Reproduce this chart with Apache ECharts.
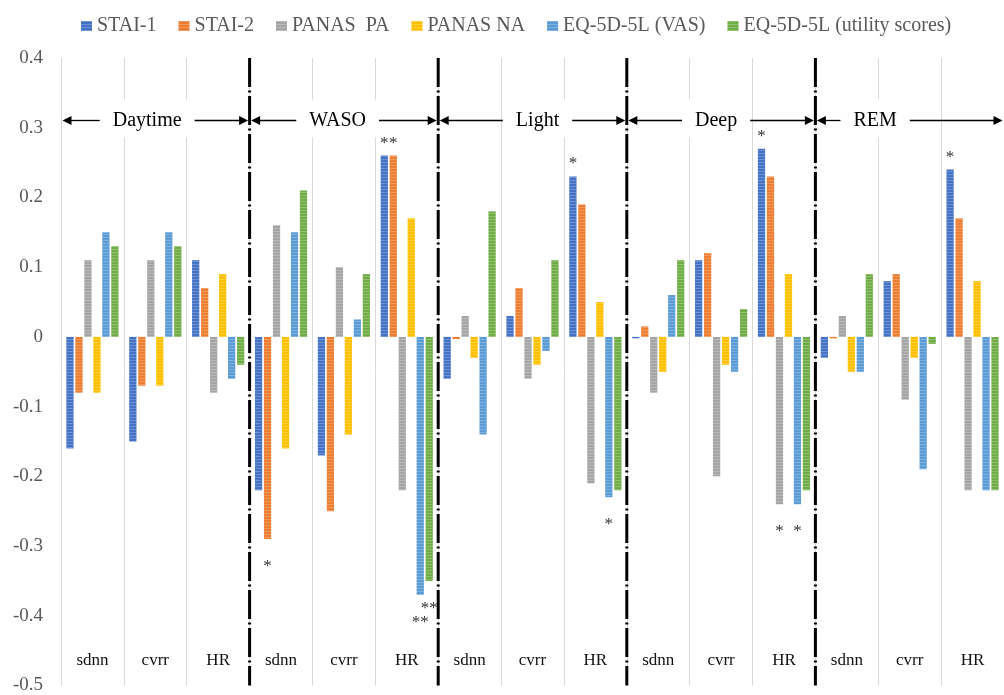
<!DOCTYPE html>
<html>
<head>
<meta charset="utf-8">
<script src="https://cdn.jsdelivr.net/npm/echarts@6/dist/echarts.min.js"></script>
<style>
  html, body { margin: 0; padding: 0; background: #fff; }
  #chart { width: 1004px; height: 695px; }
</style>
</head>
<body>
<div id="chart"></div>
<script>
// ---- data ----
const groups = ['Daytime', 'WASO', 'Light', 'Deep', 'REM'];
const categories = ['sdnn', 'cvrr', 'HR', 'sdnn', 'cvrr', 'HR', 'sdnn', 'cvrr', 'HR', 'sdnn', 'cvrr', 'HR', 'sdnn', 'cvrr', 'HR'];
const seriesNames = ['STAI-1', 'STAI-2', 'PANAS  PA', 'PANAS NA', 'EQ-5D-5L (VAS)', 'EQ-5D-5L (utility scores)'];
const yTicks = [-0.5, -0.4, -0.3, -0.2, -0.1, 0, 0.1, 0.2, 0.3, 0.4];

const stai1   = [-0.16, -0.15, 0.11, -0.22, -0.17, 0.26, -0.06, 0.03, 0.23, -0.002, 0.11, 0.27, -0.03, 0.08, 0.24];
const stai2   = [-0.08, -0.07, 0.07, -0.29, -0.25, 0.26, -0.003, 0.07, 0.19, 0.015, 0.12, 0.23, -0.002, 0.09, 0.17];
const panasPA = [0.11, 0.11, -0.08, 0.16, 0.10, -0.22, 0.03, -0.06, -0.21, -0.08, -0.20, -0.24, 0.03, -0.09, -0.22];
const panasNA = [-0.08, -0.07, 0.09, -0.16, -0.14, 0.17, -0.03, -0.04, 0.05, -0.05, -0.04, 0.09, -0.05, -0.03, 0.08];
const eqVAS   = [0.15, 0.15, -0.06, 0.15, 0.025, -0.37, -0.14, -0.02, -0.23, 0.06, -0.05, -0.24, -0.05, -0.19, -0.22];
const eqUtil  = [0.13, 0.13, -0.04, 0.21, 0.09, -0.35, 0.18, 0.11, -0.22, 0.11, 0.04, -0.22, 0.09, -0.01, -0.22];

// significance marks
const sigStai1   = ['', '', '', '', '', '*', '', '', '*', '', '', '*', '', '', '*'];
const sigStai2   = ['', '', '', '*', '', '*', '', '', '', '', '', '', '', '', ''];
const sigPanasPA = ['', '', '', '', '', '', '', '', '', '', '', '*', '', '', ''];
const sigPanasNA = ['', '', '', '', '', '', '', '', '', '', '', '', '', '', ''];
const sigVAS     = ['', '', '', '', '', '**', '', '', '*', '', '', '*', '', '', ''];
const sigUtil    = ['', '', '', '', '', '**', '', '', '', '', '', '', '', '', ''];

const seriesValues = [stai1, stai2, panasPA, panasNA, eqVAS, eqUtil];
const seriesSig = [sigStai1, sigStai2, sigPanasPA, sigPanasNA, sigVAS, sigUtil];
const colors = ['#4472C4', '#ED7D31', '#A5A5A5', '#FFC000', '#5B9BD5', '#70AD47'];

// group label centres (in category units from the left edge)
const groupLabelCenters = [1.37, 4.4, 7.58, 10.42, 12.95];

const serif = '"Liberation Serif", "DejaVu Serif", serif';

const chart = echarts.init(document.getElementById('chart'), null, { renderer: 'canvas' });

const series = seriesValues.map((vals, si) => ({
  name: seriesNames[si],
  type: 'bar',
  barGap: '24%',
  barCategoryGap: '17%',
  itemStyle: {
    color: colors[si],
    decal: {
      symbol: 'rect',
      symbolSize: 1,
      dashArrayX: [1, 0],
      dashArrayY: [1, 2],
      color: 'rgba(255,255,255,0.22)'
    }
  },
  data: vals.map((v, i) => {
    const s = seriesSig[si][i];
    const item = { value: v };
    if (s) {
      item.label = {
        show: true,
        position: 'outside',
        formatter: s,
        distance: v < 0 ? 19 : 4,
        fontFamily: serif,
        fontSize: 17,
        color: '#333'
      };
    }
    return item;
  })
}));

// hidden helper series for the value axis used for decorations
series.push({
  type: 'line', xAxisIndex: 1, data: [], silent: true
});

chart.setOption({
  animation: false,
  aria: { enabled: false },
  color: colors,
  legend: {
    data: seriesNames,
    left: 76,
    top: 11,
    itemWidth: 11,
    itemHeight: 10,
    itemGap: 22,
    icon: 'rect',
    textStyle: { fontFamily: serif, fontSize: 20, color: '#595959' }
  },
  grid: { left: 61, right: -7, top: 58, bottom: 7, containLabel: false },
  xAxis: [{
    type: 'category',
    data: categories,
    boundaryGap: true,
    axisLine: { show: false },
    axisTick: { show: false },
    splitLine: { show: true, interval: 0, lineStyle: { color: '#d9d9d9', width: 1 } },
    axisLabel: {
      inside: true,
      interval: 0,
      margin: 16,
      fontFamily: serif,
      fontSize: 17,
      color: '#111'
    }
  }, {
    type: 'value',
    min: 0,
    max: 15,
    show: false
  }],
  yAxis: {
    type: 'value',
    min: -0.5,
    max: 0.4,
    interval: 0.1,
    axisLine: { show: false },
    axisTick: { show: false },
    splitLine: { show: false },
    axisLabel: {
      margin: 18,
      fontFamily: serif,
      fontSize: 19,
      color: '#595959',
      formatter: v => {
        const r = Math.round(v * 10) / 10;
        return yTicks.indexOf(r) >= 0 ? String(r) : '';
      }
    }
  },
  series: series
});

// ---- decorations: group separators, arrows and group labels ----
const xPix = u => chart.convertToPixel({ xAxisIndex: 1 }, u);
const yPix = v => chart.convertToPixel({ yAxisIndex: 0 }, v);
const yTop = yPix(0.4), yBot = yPix(-0.5);
const arrowY = Math.round(yPix(0.311)) + 0.5;
const graphics = [];

// dash-dot separators between groups
for (let g = 1; g < groups.length; g++) {
  const x = xPix(g * 3);
  graphics.push({
    type: 'line',
    z: 10,
    shape: { x1: x, y1: yTop, x2: x, y2: yBot },
    style: { stroke: '#000', lineWidth: 3, lineDash: [29, 3.5, 2, 3.5] }
  });
}

const ctx = document.createElement('canvas').getContext('2d');
ctx.font = '20px ' + serif;

groups.forEach((name, g) => {
  const xs = xPix(g * 3) + 1.5;
  const xe = xPix(g * 3 + 3) - 1.5;
  const xc = xPix(groupLabelCenters[g]);
  const tw = ctx.measureText(name).width;
  const bl = xc - tw / 2 - 13;
  const br = xc + tw / 2 + 13;
  // white box covering the grid lines
  graphics.push({
    type: 'rect', z: 11,
    shape: { x: bl, y: arrowY - 21, width: br - bl, height: 38 },
    style: { fill: '#fff' }
  });
  graphics.push({
    type: 'text', z: 12,
    x: xc, y: arrowY,
    style: { text: name, font: '20px ' + serif, fill: '#000', align: 'center', verticalAlign: 'middle' }
  });
  // left arrow
  graphics.push({
    type: 'line', z: 12,
    shape: { x1: bl, y1: arrowY, x2: xs + 7, y2: arrowY },
    style: { stroke: '#000', lineWidth: 1.3 }
  });
  graphics.push({
    type: 'polygon', z: 12,
    shape: { points: [[xs, arrowY], [xs + 9, arrowY - 4.5], [xs + 9, arrowY + 4.5]] },
    style: { fill: '#000' }
  });
  // right arrow
  graphics.push({
    type: 'line', z: 12,
    shape: { x1: br, y1: arrowY, x2: xe - 7, y2: arrowY },
    style: { stroke: '#000', lineWidth: 1.3 }
  });
  graphics.push({
    type: 'polygon', z: 12,
    shape: { points: [[xe, arrowY], [xe - 9, arrowY - 4.5], [xe - 9, arrowY + 4.5]] },
    style: { fill: '#000' }
  });
});

chart.setOption({ graphic: graphics });
</script>
</body>
</html>
